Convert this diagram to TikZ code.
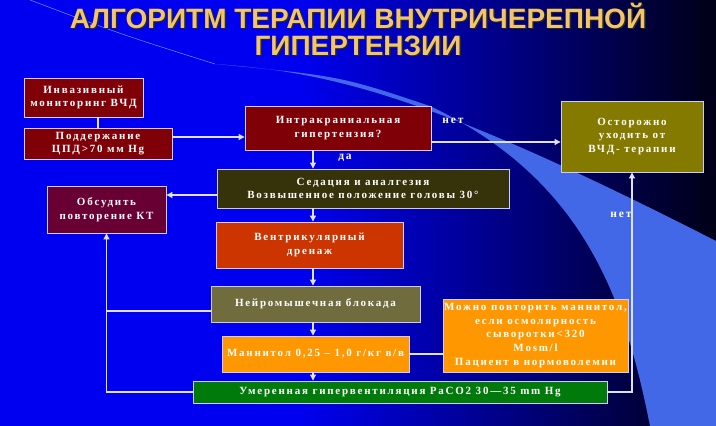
\documentclass[tikz,border=0pt]{standalone}
\usepackage{fontspec}
\setmainfont{Liberation Serif}
\newfontfamily\hdfont{Liberation Sans}
\newfontfamily\bxfont[LetterSpace=16]{Liberation Serif}
\usetikzlibrary{arrows.meta,positioning,calc}
\definecolor{icpbg}{RGB}{0,0,240}
\definecolor{icpdark}{RGB}{0,0,22}
\definecolor{icpswsh}{RGB}{66,104,232}
\definecolor{icpedge}{RGB}{205,205,250}
\definecolor{icpln}{RGB}{225,225,255}
\definecolor{icpttl}{RGB}{242,198,104}
\definecolor{icpred}{RGB}{128,0,8}
\definecolor{icpmrn}{RGB}{104,0,52}
\definecolor{icpolv}{RGB}{132,122,0}
\definecolor{icpdko}{RGB}{54,50,10}
\definecolor{icprst}{RGB}{204,52,0}
\definecolor{icpgol}{RGB}{112,108,62}
\definecolor{icporg}{RGB}{255,152,0}
\definecolor{icpgrn}{RGB}{0,122,10}
\tikzset{
  icpbox/.style={
    draw=icpedge, line width=0.9pt, align=center, text=white,
    inner sep=2pt, font=\bxfont\bfseries\fontsize{11}{13.5}\selectfont
  },
  redb/.style={icpbox, fill=icpred},
  mrnb/.style={icpbox, fill=icpmrn},
  olvb/.style={icpbox, fill=icpolv},
  dkob/.style={icpbox, fill=icpdko},
  rstb/.style={icpbox, fill=icprst},
  golb/.style={icpbox, fill=icpgol},
  orgb/.style={icpbox, fill=icporg},
  grnb/.style={icpbox, fill=icpgrn},
  arr/.style={-{Triangle[length=6pt,width=6pt]}, draw=icpln, line width=1.1pt},
  lnk/.style={draw=icpln, line width=1.1pt},
  lbl/.style={text=white, font=\bxfont\bfseries\fontsize{11.5}{13}\selectfont},
  ttl/.style={font=\hdfont\bfseries\fontsize{28}{27}\selectfont, align=center}
}
\begin{document}
\begin{tikzpicture}[x=1pt, y=-1pt]
  \useasboundingbox (0,0) rectangle (716,426);
  % background
  \fill[icpbg] (0,0) rectangle (716,426);
  \shade[left color=icpbg, right color=icpdark] (300,0) rectangle (716,426);
  \fill[icpswsh] (215,64) .. controls (330,72) and (430,95) .. (716,241)
    -- (716,426) -- (650,426) .. controls (625,300) and (585,180) .. (430,106)
    .. controls (340,76) .. (215,64) -- cycle;
  \draw[icpswsh!70, line width=0.5pt] (30,0) .. controls (120,34) .. (215,64);

  % title
  \node[ttl, text=black!85] (ttlsh) at (359.5,30.5) {АЛГОРИТМ ТЕРАПИИ ВНУТРИЧЕРЕПНОЙ\\ГИПЕРТЕНЗИИ};
  \node[ttl, text=icpttl] (ttl) at (358,29) {АЛГОРИТМ ТЕРАПИИ ВНУТРИЧЕРЕПНОЙ\\ГИПЕРТЕНЗИИ};

  % boxes
  \node[redb, minimum width=119, minimum height=39] (inv) at (83.5,97.5) {Инвазивный\\мониторинг ВЧД};
  \node[redb, minimum width=148, minimum height=31] (pod) at (98,143.5) {Поддержание\\ЦПД>70 мм Hg};
  \node[redb, minimum width=186, minimum height=44] (ich) at (338,128) {Интракраниальная\\гипертензия?};
  \node[olvb, minimum width=142, minimum height=71] (ost) at (632,136.5) {Осторожно\\уходить от\\ВЧД- терапии};
  \node[dkob, minimum width=292, minimum height=39] (sed) at (363,188.5) {Седация и аналгезия\\Возвышенное положение головы 30°};
  \node[mrnb, minimum width=119, minimum height=47] (obs) at (106.5,209.5) {Обсудить\\повторение КТ};
  \node[rstb, minimum width=187, minimum height=46] (vent) at (309.5,245) {Вентрикулярный\\дренаж};
  \node[golb, minimum width=209, minimum height=36] (neu) at (315.5,304) {Нейромышечная блокада};
  \node[orgb, minimum width=187, minimum height=36] (man) at (315.5,354) {Маннитол 0,25 – 1,0 г/кг в/в};
  \node[orgb, minimum width=185, minimum height=73, inner sep=0pt,
    font=\bxfont\bfseries\fontsize{11}{13.6}\selectfont] (rep) at (535.5,335.5)
    {Можно повторить маннитол,\\если осмолярность\\сыворотки<320\\Mosm/l\\Пациент в нормоволемии};
  \node[grnb, minimum width=414, minimum height=22] (hyp) at (400,392) {Умеренная гипервентиляция PaCO2 30—35 mm Hg};

  \coordinate (ax) at (313,0);

  % connectors
  \draw[lnk] (pod.north |- inv.south) -- (pod.north);
  \draw[arr] ([yshift=6.5pt]pod.east) -- ([yshift=6.5pt]pod.east -| ich.west);
  \draw[arr] ([yshift=-14pt]ich.east) -- ([yshift=-14pt]ich.east -| ost.west);
  \draw[arr] (ich.south -| ax) -- (sed.north -| ax);
  \draw[arr] (sed.south -| ax) -- (vent.north -| ax);
  \draw[arr] (vent.south -| ax) -- (neu.north -| ax);
  \draw[arr] (neu.south -| ax) -- (man.north -| ax);
  \draw[arr] (man.south -| ax) -- (hyp.north -| ax);
  \draw[arr] ([yshift=-6.5pt]sed.west) -- ([yshift=-6.5pt]sed.west -| obs.east);
  \draw[arr] (hyp.west) -| (obs.south);
  \draw[lnk] ([yshift=-7pt]neu.west) -- ([yshift=-7pt]neu.west -| obs.south);
  \draw[lnk] (man.east) -- (man.east -| rep.west);
  \draw[arr] (hyp.east) -| (ost.south);

  % labels
  \node[lbl] (nt1) at (453,121) {нет};
  \node[lbl] (da) at (345,158) {да};
  \node[lbl] (nt2) at (621,215) {нет};
\end{tikzpicture}
\end{document}
